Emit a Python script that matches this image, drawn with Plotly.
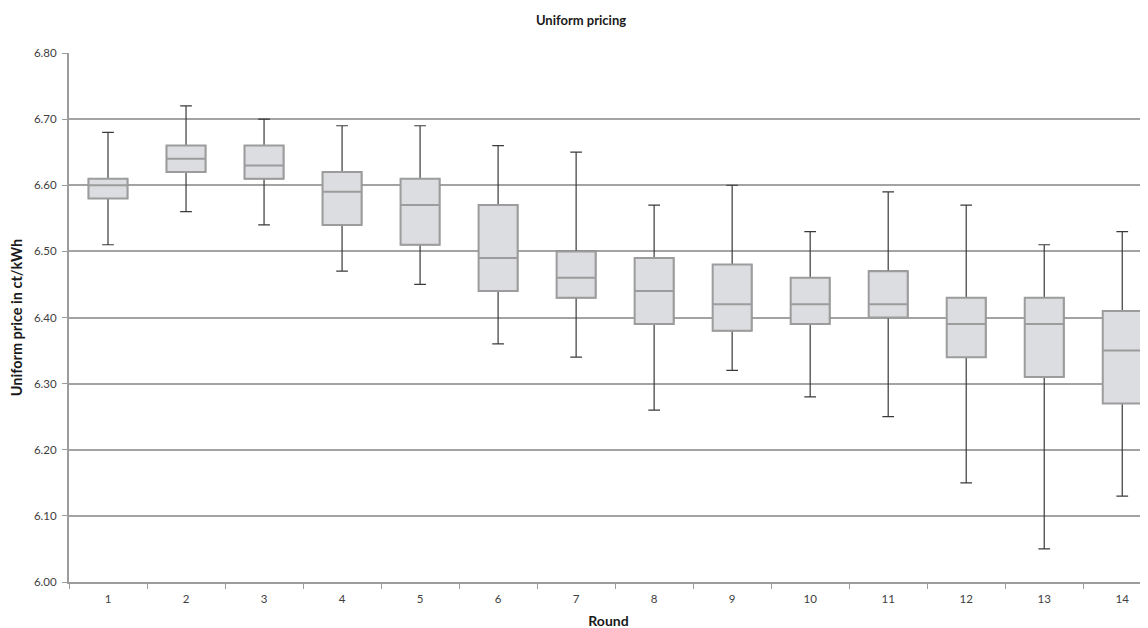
import plotly.graph_objects as go

rounds = [str(i) for i in range(1, 15)]
minimum = [6.51, 6.56, 6.54, 6.47, 6.45, 6.36, 6.34, 6.26, 6.32, 6.28, 6.25, 6.15, 6.05, 6.13]
q1 =      [6.58, 6.62, 6.61, 6.54, 6.51, 6.44, 6.43, 6.39, 6.38, 6.39, 6.40, 6.34, 6.31, 6.27]
median =  [6.60, 6.64, 6.63, 6.59, 6.57, 6.49, 6.46, 6.44, 6.42, 6.42, 6.42, 6.39, 6.39, 6.35]
q3 =      [6.61, 6.66, 6.66, 6.62, 6.61, 6.57, 6.50, 6.49, 6.48, 6.46, 6.47, 6.43, 6.43, 6.41]
maximum = [6.68, 6.72, 6.70, 6.69, 6.69, 6.66, 6.65, 6.57, 6.60, 6.53, 6.59, 6.57, 6.51, 6.53]
y_ticks = [6.0, 6.1, 6.2, 6.3, 6.4, 6.5, 6.6, 6.7, 6.8]

FONT = "Lato, 'Liberation Sans', sans-serif"

fig = go.Figure()
# whiskers (dark)
fig.add_trace(go.Box(
    x=rounds, q1=q1, median=median, q3=q3,
    lowerfence=minimum, upperfence=maximum,
    width=0.5, whiskerwidth=0.3,
    line=dict(color="#3a3a3a", width=1.2),
    fillcolor="#dcdde0", boxpoints=False, showlegend=False,
    hoverinfo="skip",
))
# boxes (grey outline)
fig.add_trace(go.Box(
    x=rounds, q1=q1, median=median, q3=q3,
    lowerfence=q1, upperfence=q3,
    width=0.5, whiskerwidth=0,
    line=dict(color="#9c9c9c", width=2),
    fillcolor="#dcdde0", boxpoints=False, showlegend=False,
))

fig.update_layout(
    width=1148, height=628,
    margin=dict(l=61, r=8, t=45, b=54),
    paper_bgcolor="white", plot_bgcolor="white",
    boxmode="overlay",
    showlegend=False,
    font=dict(family=FONT, color="#404040", size=11),
    title=dict(text="<b>Uniform pricing</b>", x=573/1148, xanchor="center",
               y=1 - 12/628, yanchor="middle",
               font=dict(family=FONT, size=13, color="#1a1a1a")),
)
fig.update_xaxes(
    type="category", range=[-0.5, 13.33],
    tickson="boundaries", ticks="outside", ticklen=5, tickcolor="#9c9c9c",
    ticklabelstandoff=5,
    showline=True, linecolor="#9c9c9c", linewidth=2,
    showgrid=False, zeroline=False,
    tickfont=dict(family=FONT, size=11.5, color="#404040"),
    title=dict(text="<b>Round</b>", standoff=12,
               font=dict(family=FONT, size=14, color="#1a1a1a")),
)
fig.update_yaxes(
    range=[6.0, 6.8], tickvals=y_ticks, tickformat=".2f",
    ticks="outside", ticklen=5, tickcolor="#9c9c9c",
    ticklabelstandoff=3,
    showline=True, linecolor="#9c9c9c", linewidth=2,
    showgrid=True, gridcolor="#a3a3a3", gridwidth=1.5,
    zeroline=False,
    tickfont=dict(family=FONT, size=11.5, color="#404040"),
    title=dict(text="<b>Uniform price in ct/kWh</b>", standoff=8,
               font=dict(family=FONT, size=14.5, color="#1a1a1a")),
)

fig.write_html("out.html")
